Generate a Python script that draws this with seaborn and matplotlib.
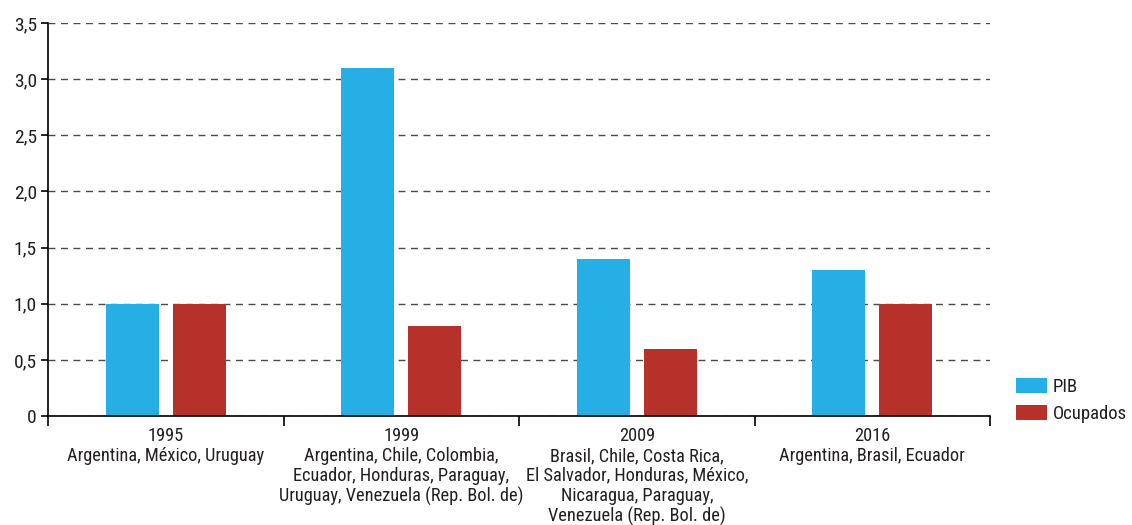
import matplotlib
matplotlib.use("Agg")
import matplotlib.pyplot as plt
from matplotlib.ticker import FixedLocator, FuncFormatter
import seaborn as sns
import pandas as pd

# Data
categories = [
    "1995\nArgentina, México, Uruguay",
    "1999\nArgentina, Chile, Colombia,\nEcuador, Honduras, Paraguay,\nUruguay, Venezuela (Rep. Bol. de)",
    "2009\nBrasil, Chile, Costa Rica,\nEl Salvador, Honduras, México,\nNicaragua, Paraguay,\nVenezuela (Rep. Bol. de)",
    "2016\nArgentina, Brasil, Ecuador",
]
series_names = ["PIB", "Ocupados"]
pib = [1.0, 3.1, 1.4, 1.3]
ocupados = [1.0, 0.8, 0.6, 1.0]
yticks = [0, 0.5, 1.0, 1.5, 2.0, 2.5, 3.0, 3.5]

colors = {"PIB": "#25afe4", "Ocupados": "#b5312a"}
text_color = "#231f20"

df = pd.DataFrame({
    "cat": categories * 2,
    "serie": [series_names[0]] * len(categories) + [series_names[1]] * len(categories),
    "valor": pib + ocupados,
})

sns.set_theme(style="white")
plt.rcParams["font.family"] = ["Roboto Condensed", "DejaVu Sans"]
plt.rcParams["font.size"] = 13

fig = plt.figure(figsize=(11.32, 5.25), dpi=100)
ax = fig.add_axes([0.0424, 0.2076, 0.8322, 0.7486])

sns.barplot(data=df, x="cat", y="valor", hue="serie", order=categories,
            hue_order=series_names, palette=colors, width=0.57, gap=0.21,
            saturation=1, ax=ax, legend=True, edgecolor="none")

ax.set_xlim(-0.5, len(categories) - 0.5)
ax.set_ylim(0, 3.5)
ax.set_xlabel("")
ax.set_ylabel("")

ax.yaxis.set_major_locator(FixedLocator(yticks))
ax.yaxis.set_major_formatter(FuncFormatter(
    lambda v, p: "0" if v == 0 else f"{v:.1f}".replace(".", ",")))
ax.grid(axis="y", color="#4a4a4a", linestyle=(0, (5, 4)), linewidth=1)
ax.set_axisbelow(True)

# category boundaries carry the x ticks; labels sit centered below each group
ax.set_xticks(range(len(categories)))
ax.set_xticklabels(categories, fontsize=13.2, linespacing=1.13, color=text_color)
ax.set_xticks([i - 0.5 for i in range(len(categories) + 1)], minor=True)
ax.tick_params(axis="x", which="major", length=0, pad=8)
ax.tick_params(axis="x", which="minor", length=7, width=1.2, color="black",
               direction="out", bottom=True)
ax.tick_params(axis="y", length=5, width=1.2, color="black", direction="out",
               left=True, labelsize=14, labelcolor=text_color, pad=3)

for s in ["top", "right"]:
    ax.spines[s].set_visible(False)
for s in ["left", "bottom"]:
    ax.spines[s].set_color("black")
    ax.spines[s].set_linewidth(1.2)

handles, labels = ax.get_legend_handles_labels()
ax.legend_.remove()
fig.legend(handles, labels, loc="lower left", bbox_to_anchor=(0.891, 0.18),
           frameon=False, fontsize=13.5, handlelength=1.65, handleheight=0.85,
           handletextpad=0.3, labelspacing=0.46, borderaxespad=0,
           labelcolor=text_color)

fig.savefig("out.png", dpi=100)
